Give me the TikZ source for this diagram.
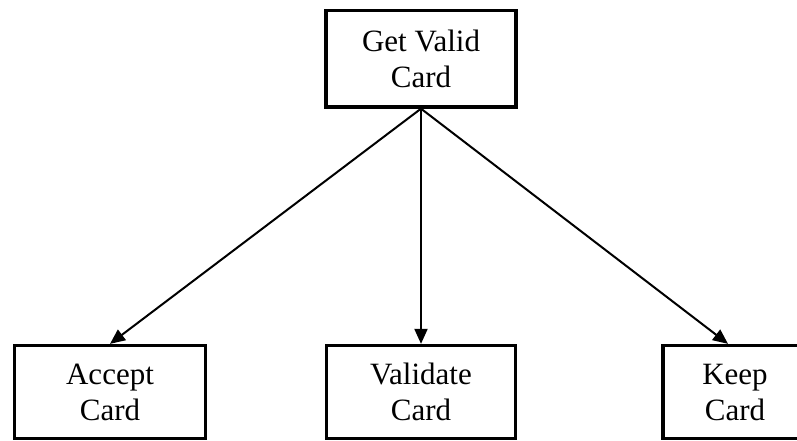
\documentclass[tikz,border=0pt]{standalone}
\usepackage{fontspec}
\setmainfont{Liberation Serif}
\usetikzlibrary{arrows.meta}
\begin{document}
\begin{tikzpicture}[x=1pt,y=-1pt,
  box/.style={draw=black, line width=3.3pt, rectangle, inner sep=0pt,
    align=center, font=\fontsize{31}{36}\selectfont},
  link/.style={draw=black, line width=2pt, -{Triangle[length=15pt,width=13pt]}}]
\clip (0,0) rectangle (797,440);
\fill[white] (0,0) rectangle (797,440);
\node[box, minimum width=190pt, minimum height=96.5pt] (top) at (421,58.75) {Get Valid\\Card};
\node[box, minimum width=191.5pt, minimum height=93pt] (accept) at (110,392) {Accept\\Card};
\node[box, minimum width=189pt, minimum height=93pt] (validate) at (421,392) {Validate\\Card};
\node[box, minimum width=144pt, minimum height=93pt] (keep) at (735,392) {Keep\\Card};
\draw[link] (top.south) -- (accept.north);
\draw[link] (top.south) -- (validate.north);
\draw[link] (top.south) -- ([xshift=-7pt]keep.north);
\end{tikzpicture}
\end{document}
